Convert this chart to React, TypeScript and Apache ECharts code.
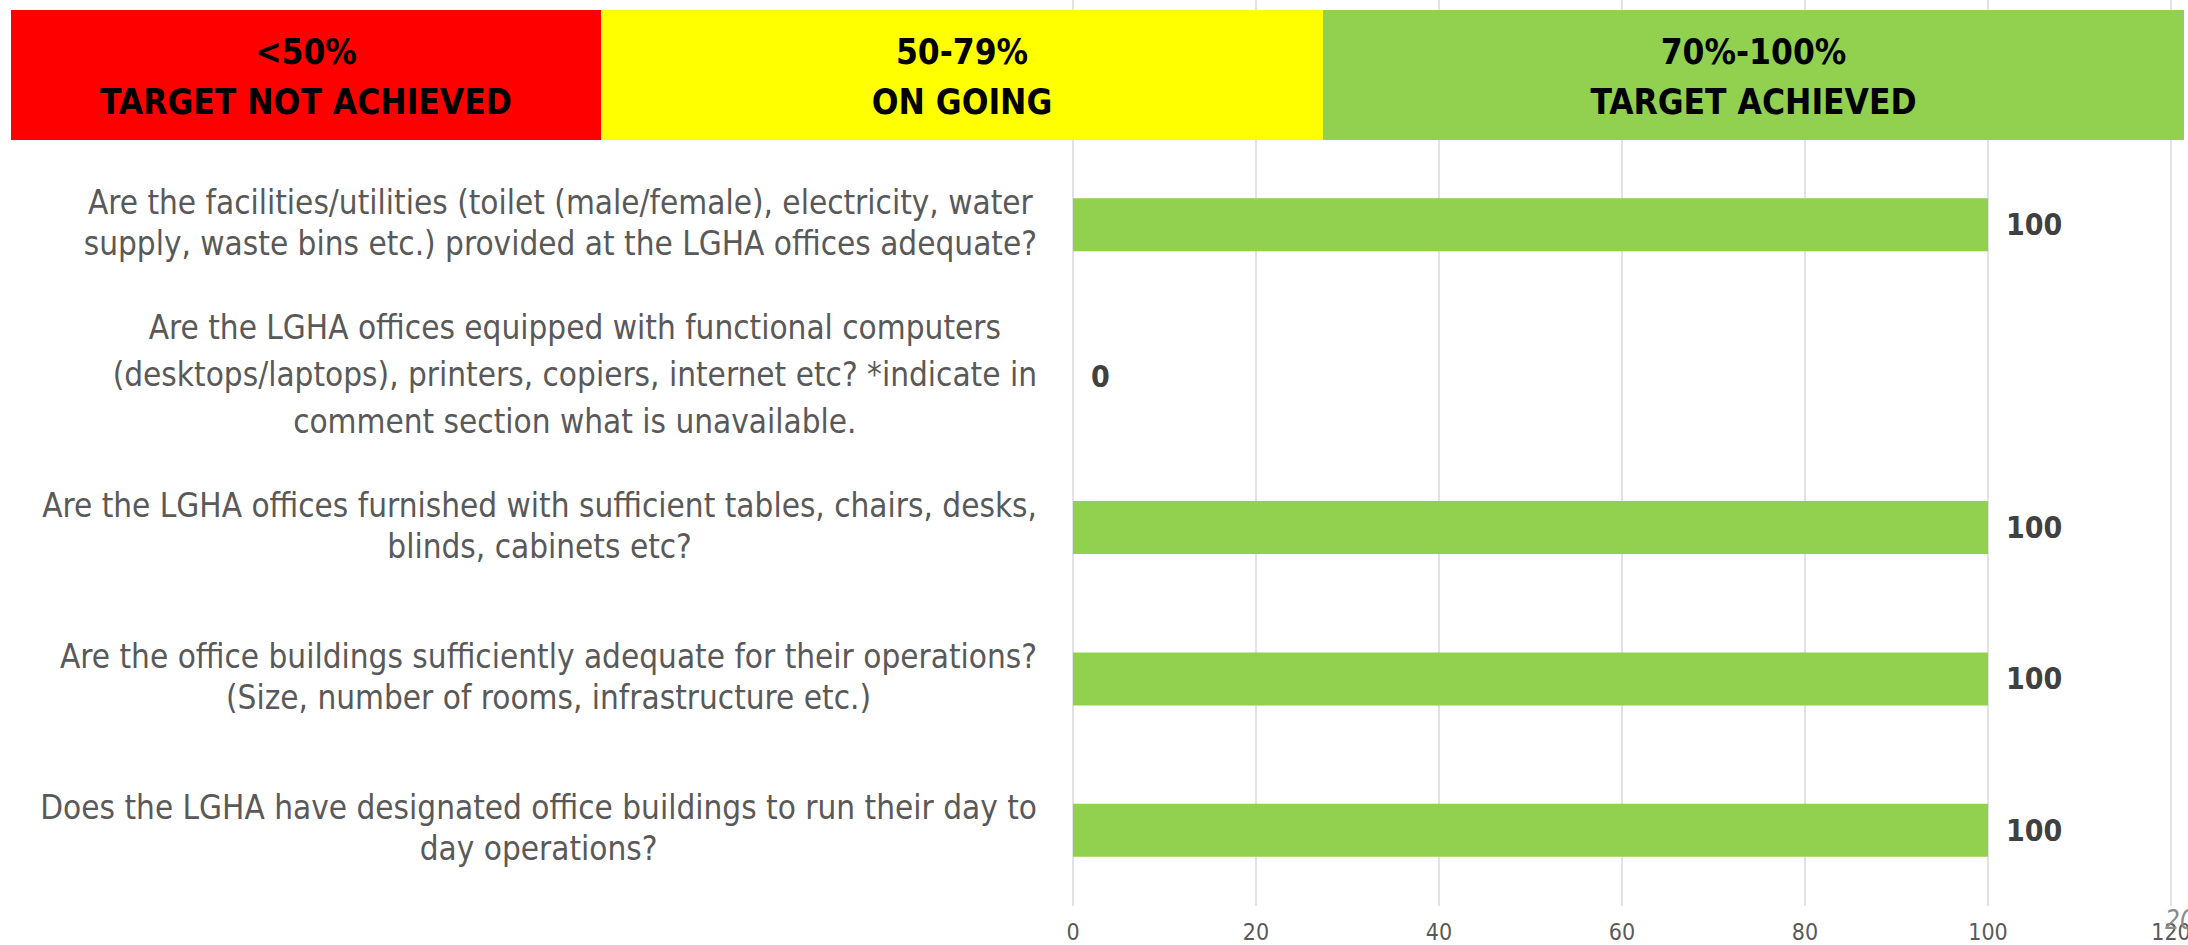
import React, { useEffect, useRef } from "react";
import * as echarts from "echarts";

const categories: string[] = [
  "Are the facilities/utilities (toilet (male/female), electricity, water\nsupply, waste bins etc.) provided at the LGHA offices adequate?",
  "Are the LGHA offices equipped with functional computers\n(desktops/laptops), printers, copiers, internet etc? *indicate in\ncomment section what is unavailable.",
  "Are the LGHA offices furnished with sufficient tables, chairs, desks,\nblinds, cabinets etc?",
  "Are the office buildings sufficiently adequate for their operations?\n(Size, number of rooms, infrastructure etc.)",
  "Does the LGHA have designated office buildings to run their day to\nday operations?",
];
const values: number[] = [100, 0, 100, 100, 100];
const xTicks: number[] = [0, 20, 40, 60, 80, 100, 120];

const bandTop: string[] = ["<50%", "50-79%", "70%-100%"];
const bandBottom: string[] = ["TARGET NOT ACHIEVED", "ON GOING", "TARGET ACHIEVED"];
const bandColors: string[] = ["#FF0000", "#FFFF00", "#92D050"];
const bandEdges: number[] = [11, 601, 1323, 2184];
const pageNumber = "20";

const FONT = "'DejaVu Sans Condensed', 'Liberation Sans Narrow', sans-serif";

export default function App() {
  const ref = useRef<HTMLDivElement>(null);
  useEffect(() => {
    document.body.style.margin = "0";
    const chart = echarts.init(ref.current!, undefined, { renderer: "svg" });
    const headerGraphics: any[] = [];
    bandColors.forEach((c, i) => {
      const x0 = bandEdges[i];
      const x1 = bandEdges[i + 1];
      headerGraphics.push({
        type: "rect",
        z: 100,
        shape: { x: x0, y: 10, width: x1 - x0, height: 130 },
        style: { fill: c },
      });
      headerGraphics.push({
        type: "text",
        z: 101,
        x: (x0 + x1) / 2,
        y: 77,
        style: {
          text: bandTop[i] + "\n" + bandBottom[i],
          fill: "#000",
          font: `bold 35px ${FONT}`,
          lineHeight: 50,
          align: "center",
          verticalAlign: "middle",
        },
      });
    });
    headerGraphics.push({
      type: "text",
      z: 101,
      x: 2165,
      y: 907,
      style: {
        text: pageNumber,
        fill: "#8c8c8c",
        font: `italic 26px ${FONT}`,
        align: "left",
        verticalAlign: "top",
      },
    });

    chart.setOption({
      animation: false,
      backgroundColor: "#fff",
      grid: [
        { left: 1073, right: 17, top: 149, bottom: 39, outerBoundsMode: "none", containLabel: false },
        { left: 1073, right: 17, top: 0, height: 149, outerBoundsMode: "none", containLabel: false },
      ],
      xAxis: [
        {
          type: "value",
          gridIndex: 0,
          min: xTicks[0],
          max: xTicks[xTicks.length - 1],
          interval: 20,
          axisLine: { show: false },
          axisTick: { show: false },
          splitLine: { lineStyle: { color: "#d9d9d9", width: 1.5 } },
          axisLabel: { color: "#595959", fontSize: 23, fontFamily: FONT, margin: 14 },
        },
        {
          type: "value",
          gridIndex: 1,
          min: xTicks[0],
          max: xTicks[xTicks.length - 1],
          interval: 20,
          axisLine: { show: false },
          axisTick: { show: false },
          axisLabel: { show: false },
          splitLine: { lineStyle: { color: "#d9d9d9", width: 1.5 } },
        },
      ],
      yAxis: [
        {
          type: "category",
          gridIndex: 0,
          inverse: true,
          data: categories,
          axisLine: { show: false },
          axisTick: { show: false },
          axisLabel: {
            margin: 36,
            padding: [0, 0, 4, 0],
            formatter: (v: string) => {
              const style = v.split("\n").length > 2 ? "d" : "c";
              return v
                .split("\n")
                .map((l) => `{${style}|${l}}`)
                .join("\n");
            },
            rich: {
              c: { align: "center", fontSize: 33, lineHeight: 41, color: "#595959", fontFamily: FONT },
              d: { align: "center", fontSize: 33, lineHeight: 47, color: "#595959", fontFamily: FONT },
            },
          },
        },
        {
          type: "category",
          gridIndex: 1,
          data: [""],
          show: false,
        },
      ],
      graphic: headerGraphics,
      series: [
        {
          type: "bar",
          xAxisIndex: 0,
          yAxisIndex: 0,
          data: values,
          barWidth: 53,
          itemStyle: { color: "#92D050" },
          label: {
            show: true,
            position: "right",
            distance: 18,
            color: "#404040",
            fontSize: 30,
            fontWeight: "bold",
            fontFamily: FONT,
          },
        },
      ],
    });
    return () => chart.dispose();
  }, []);
  return (
    <div
      ref={ref}
      style={{ position: "fixed", left: 0, top: 0, width: 2188, height: 945 }}
    />
  );
}
